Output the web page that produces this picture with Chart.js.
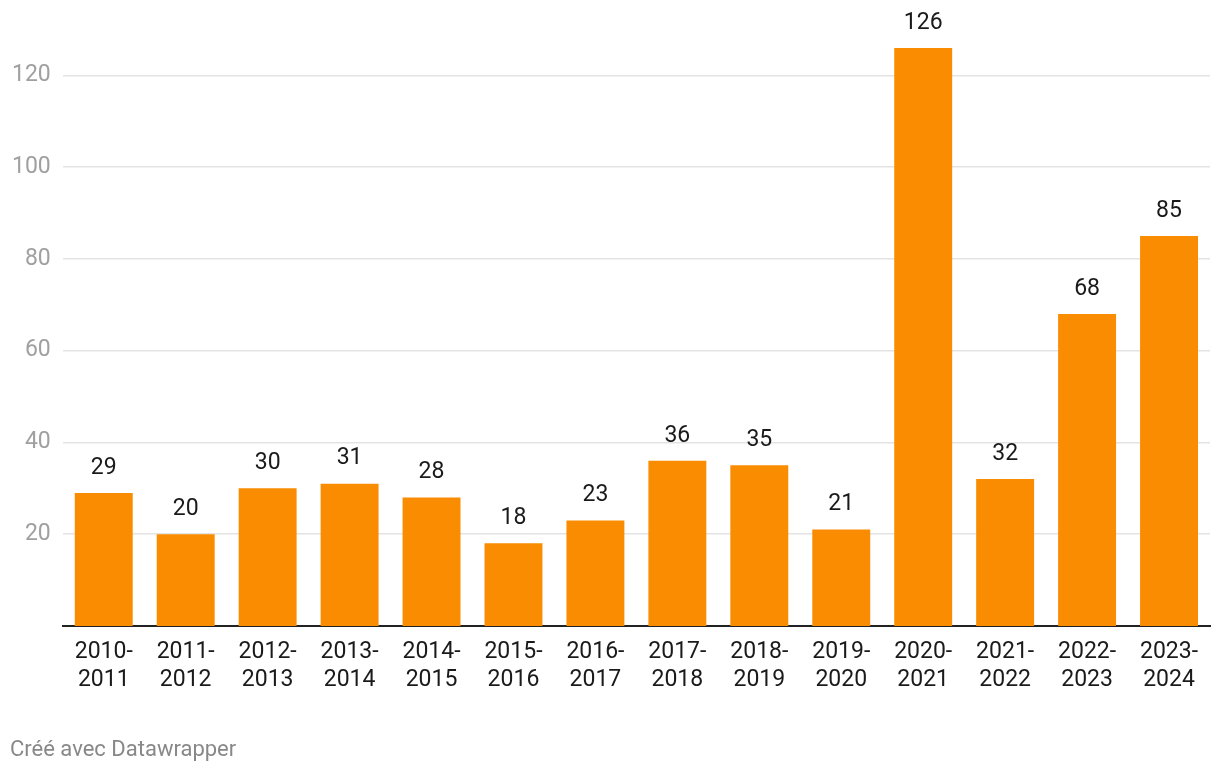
<!DOCTYPE html>
<html lang="fr">
<head>
    <meta charset="UTF-8">
    <title>Chart</title>
    <script src="https://cdn.jsdelivr.net/npm/chart.js"></script>
    <style>
        body { margin: 0; background: #fff; }
        #wrap { position: relative; width: 1220px; height: 774px; }
        #footer { position: absolute; left: 10px; top: 736px; font: 22px Roboto, sans-serif; color: #888; }
    </style>
</head>
<body>
    <div id="wrap">
        <canvas id="chart"></canvas>
        <div id="footer">Créé avec Datawrapper</div>
    </div>

    <script>
        const seasons = [
            ["2010-", "2011"], ["2011-", "2012"], ["2012-", "2013"], ["2013-", "2014"],
            ["2014-", "2015"], ["2015-", "2016"], ["2016-", "2017"], ["2017-", "2018"],
            ["2018-", "2019"], ["2019-", "2020"], ["2020-", "2021"], ["2021-", "2022"],
            ["2022-", "2023"], ["2023-", "2024"]
        ];
        const counts = [29, 20, 30, 31, 28, 18, 23, 36, 35, 21, 126, 32, 68, 85];
        const yTicks = [20, 40, 60, 80, 100, 120];

        // valeurs au-dessus des barres
        const valueLabels = {
            id: "valueLabels",
            afterDatasetsDraw(chart) {
                const ctx = chart.ctx;
                const meta = chart.getDatasetMeta(0);
                ctx.save();
                ctx.font = "23px Roboto";
                ctx.fillStyle = "#1a1a1a";
                ctx.textAlign = "center";
                ctx.textBaseline = "middle";
                meta.data.forEach((bar, i) => {
                    ctx.fillText(counts[i], bar.x, bar.y - 25);
                });
                ctx.restore();
            }
        };

        const ctx = document.getElementById("chart").getContext("2d");
        new Chart(ctx, {
            type: "bar",
            data: {
                labels: seasons,
                datasets: [{
                    data: counts,
                    backgroundColor: "#f98c00",
                    barPercentage: 0.707,
                    categoryPercentage: 1
                }]
            },
            options: {
                responsive: true,
                maintainAspectRatio: false,
                animation: false,
                layout: { padding: { left: 0, right: 10, top: 48, bottom: 76 } },
                scales: {
                    x: {
                        grid: { display: false },
                        border: { color: "#222", width: 2 },
                        ticks: {
                            color: "#1a1a1a",
                            font: { family: "Roboto", size: 23, lineHeight: 1.22 },
                            padding: 4,
                            maxRotation: 0,
                            autoSkip: false
                        }
                    },
                    y: {
                        min: 0,
                        max: 126,
                        afterBuildTicks: scale => {
                            scale.ticks = yTicks.map(v => ({ value: v }));
                        },
                        border: { display: false },
                        grid: { color: "#e3e3e3", drawTicks: false, lineWidth: 1.5 },
                        ticks: {
                            color: "#a0a0a0",
                            font: { family: "Roboto", size: 23 },
                            padding: 12
                        }
                    }
                },
                plugins: {
                    legend: { display: false },
                    tooltip: { enabled: false }
                }
            },
            plugins: [valueLabels]
        });
    </script>
</body>
</html>
